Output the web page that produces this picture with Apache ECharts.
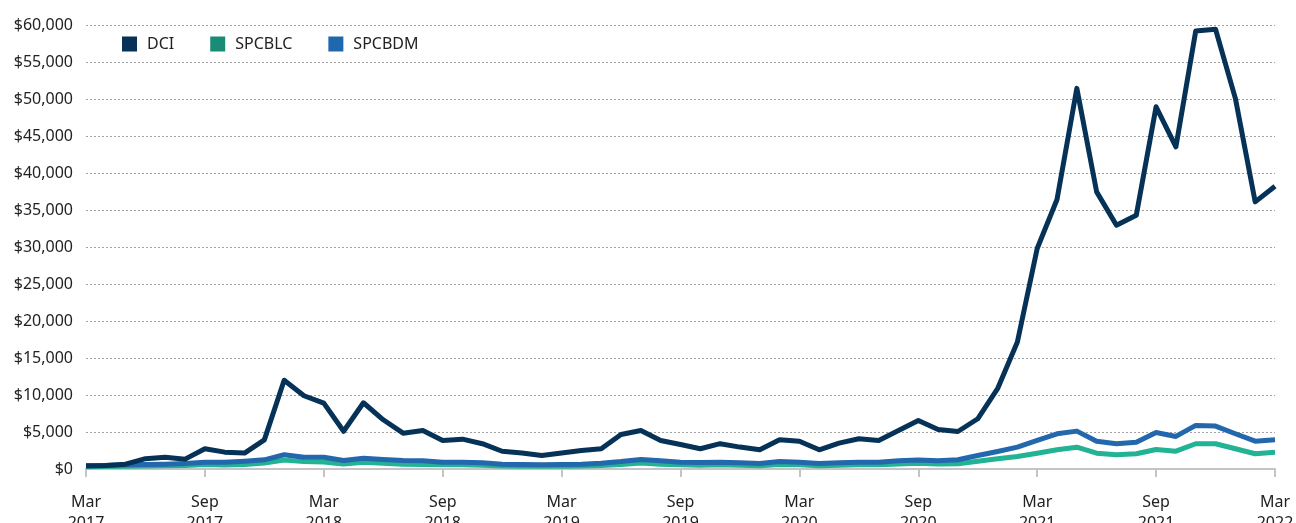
<!DOCTYPE html>
<html>
<head>
<meta charset="utf-8">
<script src="https://cdn.jsdelivr.net/npm/echarts@6/dist/echarts.min.js"></script>
<style>
  html, body { margin: 0; padding: 0; background: #fff; }
  #chart { width: 1296px; height: 523px; }
</style>
</head>
<body>
<div id="chart"></div>
<script>
var months = [];
var monthNames = ['Jan','Feb','Mar','Apr','May','Jun','Jul','Aug','Sep','Oct','Nov','Dec'];
for (var k = 0; k <= 60; k++) {
  var m = (2 + k) % 12, y = 2017 + Math.floor((2 + k) / 12);
  months.push(monthNames[m] + '\n' + y);
}

var dci = [450, 480, 650, 1400, 1600, 1330, 2740, 2280, 2150, 3940,
  12000, 9900, 8900, 5100, 8950, 6650, 4840, 5200, 3860, 4030,
  3420, 2400, 2150, 1830, 2150, 2500, 2740, 4670, 5200, 3860,
  3310, 2740, 3420, 2960, 2600, 3940, 3750, 2600, 3490, 4080,
  3860, 5200, 6560, 5340, 5070, 6790, 10850, 17150, 29800, 36420,
  51440, 37450, 32940, 34300, 48950, 43540, 59190, 59420, 50090, 36100,
  38200];

var spcblc = [300, 330, 380, 400, 430, 470, 600, 530, 620, 800,
  1200, 1000, 950, 680, 900, 760, 640, 620, 560, 560,
  520, 400, 380, 360, 380, 400, 480, 620, 800, 650,
  560, 520, 560, 500, 430, 620, 580, 440, 520, 560,
  560, 680, 780, 680, 700, 1060, 1380, 1690, 2140, 2600,
  2950, 2140, 1920, 2060, 2640, 2410, 3410, 3410, 2730, 2060,
  2270];

var spcbdm = [400, 470, 560, 610, 650, 740, 920, 920, 1060, 1240,
  1920, 1600, 1600, 1150, 1460, 1300, 1150, 1100, 920, 920,
  840, 650, 610, 570, 610, 650, 790, 1010, 1290, 1100,
  920, 880, 920, 840, 740, 1010, 920, 740, 840, 920,
  920, 1100, 1200, 1100, 1250, 1830, 2370, 2950, 3860, 4760,
  5120, 3760, 3410, 3630, 4940, 4400, 5890, 5800, 4760, 3760,
  3950];

var font = '"Noto Sans", "Open Sans", sans-serif';

function lineSeries(name, data, lineColor, iconColor, z) {
  return {
    name: name,
    type: 'line',
    data: data,
    showSymbol: false,
    symbol: 'none',
    z: z,
    itemStyle: { color: iconColor },
    lineStyle: { color: lineColor, width: 5, join: 'round' },
    emphasis: { disabled: true }
  };
}

var chart = echarts.init(document.getElementById('chart'));
chart.setOption({
  animation: false,
  grid: { left: 86, right: 21, top: 25, bottom: 54, outerBoundsMode: 'none' },
  legend: {
    left: 117, top: 31,
    itemWidth: 15, itemHeight: 15, itemGap: 36,
    icon: 'rect',
    data: ['DCI', 'SPCBLC', 'SPCBDM'],
    textStyle: { fontFamily: font, fontSize: 16, color: '#222', padding: [0, 0, 0, 5] }
  },
  xAxis: {
    type: 'category',
    data: months,
    boundaryGap: false,
    axisLine: { lineStyle: { color: '#c4c4c4', width: 2 } },
    axisTick: { interval: 5, length: 8, lineStyle: { color: '#c4c4c4', width: 2 } },
    axisLabel: {
      interval: 5, margin: 23, fontFamily: font, fontSize: 16, color: '#222', lineHeight: 21
    },
    splitLine: { show: false }
  },
  yAxis: {
    type: 'value',
    min: 0, max: 60000, interval: 5000,
    axisLine: { show: false },
    axisTick: { show: false },
    axisLabel: {
      margin: 13, fontFamily: font, fontSize: 16, color: '#222', padding: [22, 0, 0, 0],
      formatter: function (v) { return '$' + v.toLocaleString('en-US'); }
    },
    splitLine: { lineStyle: { color: '#a0a0a0', type: [2, 2], width: 1 } }
  },
  series: [
    lineSeries('DCI', dci, '#053256', '#053256', 4),
    lineSeries('SPCBLC', spcblc, '#22b294', '#1a8b77', 2),
    lineSeries('SPCBDM', spcbdm, '#2368ad', '#1f68ad', 3)
  ]
});
</script>
</body>
</html>
